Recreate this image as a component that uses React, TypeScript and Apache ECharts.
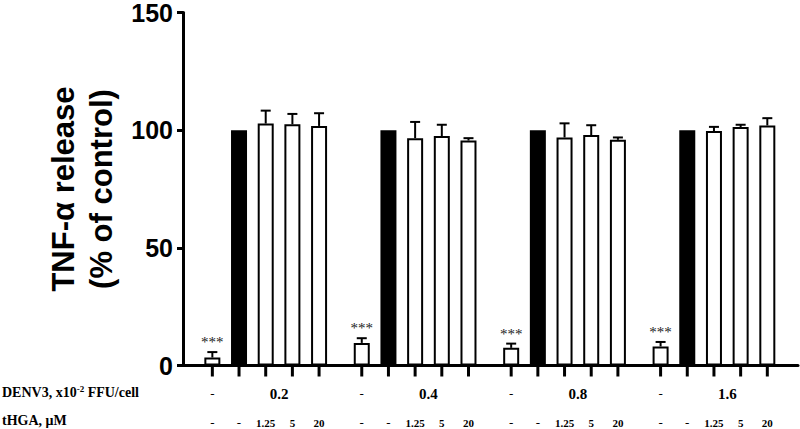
import React, { useEffect, useRef } from "react";
import * as echarts from "echarts";

// ---- data ----
const concentrations = ["0.2", "0.4", "0.8", "1.6"]; // DENV3, x10^-2 FFU/cell
const tHGALabels = ["-", "-", "1.25", "5", "20"]; // tHGA, µM (per bar in each group)
const yTicks = [0, 50, 100, 150];
// mean TNF-α release (% of control): [uninfected, DENV3 only, +1.25, +5, +20]
const means = [
  [3.4, 100, 102.8, 102.5, 101.8],
  [9.6, 100, 96.6, 97.5, 95.6],
  [7.5, 100, 96.9, 97.9, 95.9],
  [8.1, 100, 99.6, 101.3, 102.0],
];
// upper error bar (SEM)
const sems = [
  [2.3, 0, 5.5, 4.4, 5.4],
  [2.0, 0, 6.9, 4.8, 1.0],
  [1.8, 0, 6.0, 4.2, 1.0],
  [1.9, 0, 1.8, 1.0, 3.1],
];
const significance = ["***", "***", "***", "***"]; // on the uninfected bar of each group
const rowLabelDenv = "DENV3, x10{sup|-2} FFU/cell";
const rowLabelTHGA = "tHGA, μM";

// ---- layout ----
const GROUP_STRIDE = 5.6;
const BARS_PER_GROUP = 5;
const SERIF = '"Liberation Serif", "Times New Roman", serif';
const SANS = '"Liberation Sans", Arial, sans-serif';

export default function App() {
  const ref = useRef<HTMLDivElement>(null);

  useEffect(() => {
    if (!ref.current) return;
    const chart = echarts.init(ref.current, null, { renderer: "svg" });

    const barData: any[] = [];
    const extraData: any[] = [];
    means.forEach((grp, g) => {
      grp.forEach((m, i) => {
        const x = g * GROUP_STRIDE + i;
        barData.push({
          value: [x, m],
          itemStyle: { color: i === 1 ? "#000" : "#fff" },
        });
        extraData.push([x, m, sems[g][i], g, i]);
      });
    });

    const option: any = {
      animation: false,
      backgroundColor: "#fff",
      grid: { left: 183, right: 2, top: 12.5, bottom: 63.5, containLabel: false },
      xAxis: {
        type: "value",
        min: -1.1,
        max: 21.95,
        axisLine: { show: true, onZero: false, lineStyle: { color: "#000", width: 3 } },
        axisTick: { show: false },
        axisLabel: { show: false },
        splitLine: { show: false },
      },
      yAxis: {
        type: "value",
        min: yTicks[0],
        max: yTicks[yTicks.length - 1],
        interval: yTicks[1] - yTicks[0],
        name: "TNF-α release\n(% of control)",
        nameLocation: "middle",
        nameGap: 61,
        nameTextStyle: {
          fontFamily: SANS,
          fontWeight: "bold",
          fontSize: 31,
          lineHeight: 38,
          color: "#000",
        },
        axisLine: { show: true, onZero: false, lineStyle: { color: "#000", width: 3 } },
        axisTick: { show: true, length: 6, lineStyle: { color: "#000", width: 3 } },
        axisLabel: {
          fontFamily: SANS,
          fontWeight: "bold",
          fontSize: 25,
          color: "#000",
          margin: 10,
        },
        splitLine: { show: false },
      },
      graphic: [
        {
          type: "text",
          left: 2,
          top: 384,
          style: {
            text: rowLabelDenv,
            fontFamily: SERIF,
            fontWeight: "bold",
            fontSize: 14,
            fill: "#000",
            rich: {
              sup: {
                fontFamily: SERIF,
                fontWeight: "bold",
                fontSize: 9,
                verticalAlign: "top",
                lineHeight: 16,
              },
            },
          },
        },
        {
          type: "text",
          left: 2,
          top: 413,
          style: {
            text: rowLabelTHGA,
            fontFamily: SERIF,
            fontWeight: "bold",
            fontSize: 14,
            fill: "#000",
          },
        },
      ],
      series: [
        {
          type: "bar",
          data: barData,
          barWidth: 16,
          itemStyle: { borderColor: "#000", borderWidth: 2 },
          z: 2,
        },
        {
          type: "custom",
          clip: false,
          z: 3,
          data: extraData,
          renderItem: (params: any, api: any) => {
            const x = api.value(0);
            const m = api.value(1);
            const s = api.value(2);
            const g = api.value(3);
            const i = api.value(4);
            const base = api.coord([x, 0]);
            const top = api.coord([x, m]);
            const errTop = api.coord([x, m + s]);
            const children: any[] = [];
            // x-axis tick under each bar
            children.push({
              type: "line",
              shape: { x1: base[0], y1: base[1], x2: base[0], y2: base[1] + 11 },
              style: { stroke: "#000", lineWidth: 3 },
            });
            if (s > 0) {
              children.push({
                type: "line",
                shape: { x1: top[0], y1: top[1], x2: errTop[0], y2: errTop[1] },
                style: { stroke: "#000", lineWidth: 2 },
              });
              children.push({
                type: "line",
                shape: { x1: errTop[0] - 5, y1: errTop[1], x2: errTop[0] + 5, y2: errTop[1] },
                style: { stroke: "#000", lineWidth: 2 },
              });
            }
            if (i === 0 && significance[g]) {
              children.push({
                type: "text",
                style: {
                  text: significance[g],
                  x: errTop[0],
                  y: errTop[1] - 10,
                  align: "center",
                  verticalAlign: "middle",
                  fontFamily: SERIF,
                  fontSize: 15,
                  fill: "#222",
                },
              });
            }
            // DENV3 row
            if (i === 0) {
              children.push({
                type: "text",
                style: {
                  text: "-",
                  x: base[0],
                  y: base[1] + 28,
                  align: "center",
                  verticalAlign: "middle",
                  fontFamily: SERIF,
                  fontSize: 13,
                  fill: "#000",
                },
              });
            }
            if (i === 2) {
              const c = api.coord([x + 0.5, 0]);
              children.push({
                type: "text",
                style: {
                  text: concentrations[g],
                  x: c[0],
                  y: base[1] + 28,
                  align: "center",
                  verticalAlign: "middle",
                  fontFamily: SERIF,
                  fontWeight: "bold",
                  fontSize: 15,
                  fill: "#000",
                },
              });
            }
            // tHGA row
            const lab = tHGALabels[i % BARS_PER_GROUP];
            children.push({
              type: "text",
              style: {
                text: lab,
                x: base[0],
                y: base[1] + 57,
                align: "center",
                verticalAlign: "middle",
                fontFamily: SERIF,
                fontWeight: lab === "-" ? "normal" : "bold",
                fontSize: lab === "-" ? 13 : 11,
                fill: "#000",
              },
            });
            return { type: "group", children };
          },
        },
      ],
    };

    chart.setOption(option);
    return () => chart.dispose();
  }, []);

  return (
    <div
      ref={ref}
      style={{ position: "fixed", left: 0, top: 0, width: 800, height: 429 }}
    />
  );
}
